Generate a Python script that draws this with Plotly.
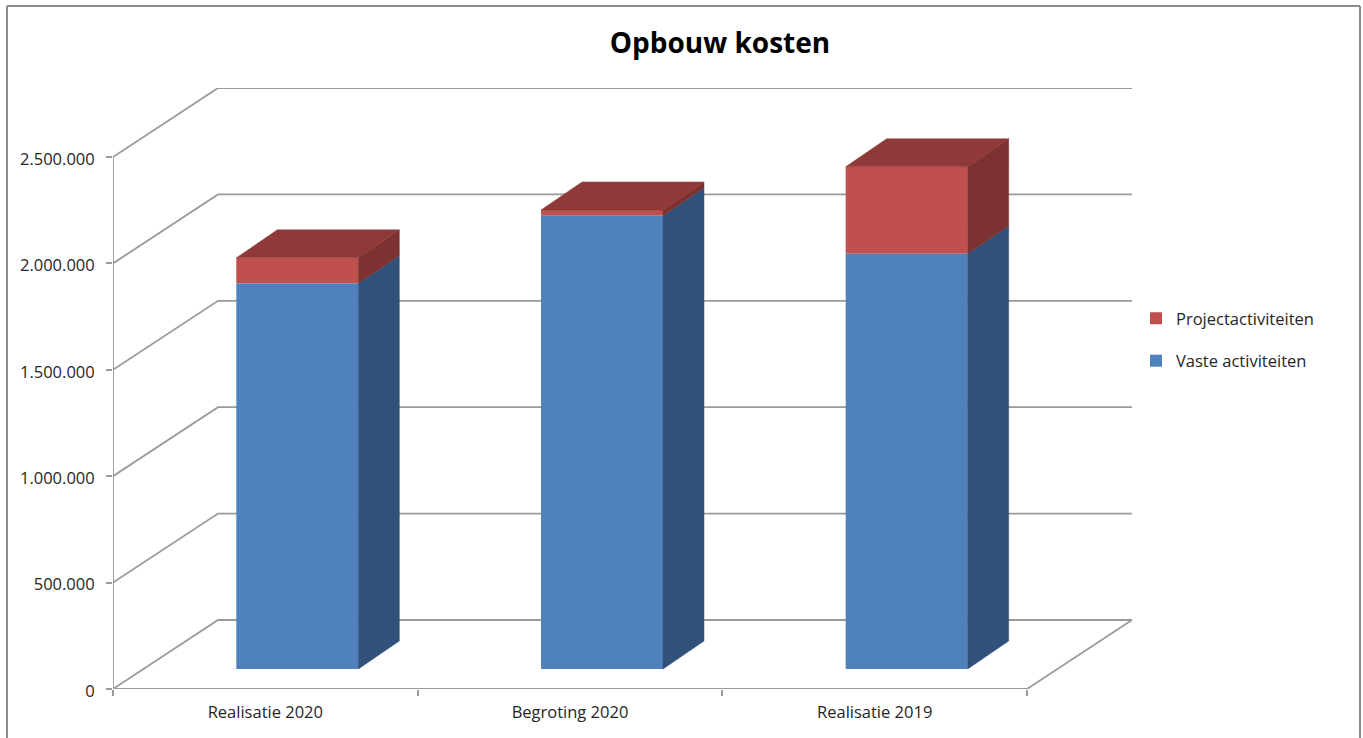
import plotly.graph_objects as go

categories = ['Realisatie 2020', 'Begroting 2020', 'Realisatie 2019']
vaste = [1812000, 2130000, 1951000]
project = [120000, 27000, 409000]
y_ticks = [0, 500000, 1000000, 1500000, 2000000, 2500000]
y_labels = ['0', '500.000', '1.000.000', '1.500.000', '2.000.000', '2.500.000']

W, H = 1363, 738
LEFT, RIGHT, TOP, BOTTOM = 113, 1132, 88, 689
PX_X = 914 / 3          # pixels per category
PX_Y = 532 / 2500000    # pixels per unit of value

# oblique projection of the walls and the bars, in data units
WALL_X, WALL_Y = 105 / PX_X, 69 / PX_Y
BAR_X, BAR_Y = 32 / PX_X, 20 / PX_Y
BAR_DX, BAR_DY = 41 / PX_X, 28 / PX_Y
BAR_W = 122 / PX_X

GRID = '#9a9a9a'
TEXT = '#262626'
FONT = 'Open Sans'


def paper_x(px):
    return (px - LEFT) / (RIGHT - LEFT)


def paper_y(px):
    return (BOTTOM - px) / (BOTTOM - TOP)


def grid_line(points):
    path = 'M' + ' L'.join(f'{x},{y}' for x, y in points)
    return dict(type='path', path=path, xref='x', yref='y', layer='below',
                line=dict(color=GRID, width=1.8))


def face(xs, ys, color):
    return go.Scatter(x=xs, y=ys, mode='lines', fill='toself', fillcolor=color,
                      line=dict(color=color, width=0.5), showlegend=False, hoverinfo='skip')


n = len(categories)
shapes = [grid_line([(0, v), (WALL_X, v + WALL_Y), (n + WALL_X, v + WALL_Y)]) for v in y_ticks]
shapes.append(grid_line([(n + WALL_X, WALL_Y), (n, 0), (0, 0), (0, y_ticks[-1])]))
# chart frame, open at the bottom of the picture
for x0, y0, x1, y1 in [(7, 738, 7, 6), (7, 6, 1360, 6), (1360, 6, 1360, 738)]:
    shapes.append(dict(type='line', xref='paper', yref='paper',
                       x0=paper_x(x0), y0=paper_y(y0), x1=paper_x(x1), y1=paper_y(y1),
                       line=dict(color='#8c8c8c', width=2)))

centers = [i + 0.5 + BAR_X for i in range(n)]
fig = go.Figure()
fig.add_trace(go.Bar(name='Projectactiviteiten', x=centers, y=project, width=BAR_W,
                     base=[BAR_Y + v for v in vaste], marker=dict(color='#c0504d', line_width=0),
                     legendgroup='project', hoverinfo='skip'))
fig.add_trace(go.Bar(name='Vaste activiteiten', x=centers, y=vaste, width=BAR_W,
                     base=[BAR_Y] * n, marker=dict(color='#4f81bd', line_width=0),
                     legendgroup='vaste', hoverinfo='skip'))

for c, v, p in zip(centers, vaste, project):
    xr = c + BAR_W / 2
    xl = c - BAR_W / 2
    seam = BAR_Y + v
    top = seam + p
    fig.add_trace(face([xr, xr + BAR_DX, xr + BAR_DX, xr, xr],
                       [BAR_Y, BAR_Y + BAR_DY, seam + BAR_DY, seam, BAR_Y], '#30527a'))
    fig.add_trace(face([xr, xr + BAR_DX, xr + BAR_DX, xr, xr],
                       [seam, seam + BAR_DY, top + BAR_DY, top, seam], '#7d3231'))
    fig.add_trace(face([xl, xr, xr + BAR_DX, xl + BAR_DX, xl],
                       [top, top, top + BAR_DY, top + BAR_DY, top], '#8f3a39'))

fig.update_layout(
    width=W, height=H,
    margin=dict(l=LEFT, r=W - RIGHT, t=TOP, b=H - BOTTOM, autoexpand=False),
    barmode='overlay',
    plot_bgcolor='white', paper_bgcolor='white',
    font=dict(family=FONT, size=16.5, color=TEXT),
    title=dict(text='<b>Opbouw kosten</b>', x=720 / W, y=1 - 43 / H, xanchor='center', yanchor='middle',
               font=dict(family=FONT, size=28, color='#000000')),
    legend=dict(x=paper_x(1136), y=paper_y(301), xanchor='left', yanchor='top',
                traceorder='grouped', tracegroupgap=18, font=dict(size=16.5, color=TEXT)),
    shapes=shapes,
    xaxis=dict(range=[0, (RIGHT - LEFT) / PX_X], tickvals=[i + 0.5 for i in range(n)], ticktext=categories,
               ticks='', showgrid=False, zeroline=False, showline=False, ticklabelstandoff=11,
               minor=dict(tickvals=list(range(n + 1)), ticks='outside', ticklen=6, tickwidth=1.5,
                          tickcolor=GRID, showgrid=False)),
    yaxis=dict(range=[0, (BOTTOM - TOP) / PX_Y], tickvals=y_ticks, ticktext=y_labels,
               ticks='outside', ticklen=6, tickwidth=1.5, tickcolor=GRID,
               showgrid=False, zeroline=False, showline=False, ticklabelstandoff=8, ticklabelshift=2),
)

fig.write_html('out.html', config=dict(displayModeBar=False), post_script="document.body.style.margin = '0';")
